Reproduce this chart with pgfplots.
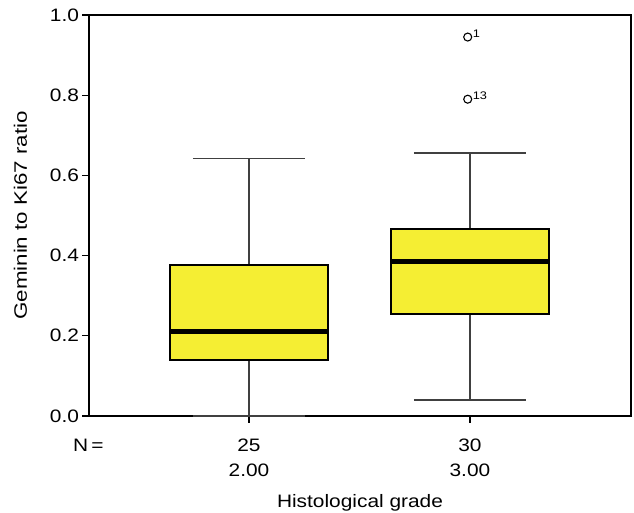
\documentclass[border=0pt]{standalone}
\usepackage{fontspec}
\setmainfont[FakeStretch=1.16]{Liberation Sans}
\newfontfamily\ylabfont[FakeStretch=1.24]{Liberation Sans}
\usepackage{pgfplots}
\pgfplotsset{compat=1.18}
\usepgfplotslibrary{statistics}
\definecolor{boxyellow}{HTML}{F5EE33}
\begin{document}
\begin{tikzpicture}[font=\fontsize{18bp}{25bp}\selectfont]
\begin{axis}[
  scale only axis, width=542bp, height=401bp,
  xmin=0.276, xmax=2.729, ymin=0, ymax=1,
  tick pos=left, tick align=outside, major tick length=6.5bp,
  axis line style={line width=1.5bp}, tick style={line width=1.3bp, black},
  xtick={1,2}, xticklabels={25\\2.00, 30\\3.00},
  xticklabel style={align=center, anchor=base, yshift=-53.5bp, inner sep=0pt},
  ytick={0,0.2,0.4,0.6,0.8,1.0},
  yticklabel style={/pgf/number format/fixed, /pgf/number format/fixed zerofill, /pgf/number format/precision=1},
  /pgf/number format/assume math mode=true,
  xlabel={Histological grade}, ylabel={Geminin to Ki67 ratio},
  xlabel style={at={(axis description cs:0.5,-0.2294)}, anchor=base, inner sep=0pt},
  ylabel style={at={(axis description cs:-0.1144,0.5)}, anchor=base, inner sep=0pt, font=\fontsize{18bp}{25bp}\ylabfont},
  boxplot/draw direction=y,
  clip=false,
]
\addplot+[boxplot prepared={draw position=1, lower whisker=0, lower quartile=0.1397, median=0.211, upper quartile=0.3766, upper whisker=0.642, box extend=0.715, whisker extend=0.507,
  every box/.style={draw=black, line width=1.6bp, fill=boxyellow},
  every whisker/.style={draw=black!75, line width=1.4bp},
  every median/.style={draw=black, line width=5.3bp}},
  solid, draw=black, mark=none] coordinates {};
\addplot+[boxplot prepared={draw position=2, lower whisker=0.040, lower quartile=0.255, median=0.386, upper quartile=0.466, upper whisker=0.656, box extend=0.715, whisker extend=0.507,
  every box/.style={draw=black, line width=1.6bp, fill=boxyellow},
  every whisker/.style={draw=black!75, line width=1.4bp},
  every median/.style={draw=black, line width=5.3bp}},
  solid, draw=black, mark=none] coordinates {};
\addplot[only marks, mark=o, mark size=4bp, black, line width=1.1bp,
  nodes near coords, point meta=explicit symbolic,
  nodes near coords style={anchor=base west, font=\fontsize{11bp}{13bp}\selectfont, xshift=4.5bp, yshift=-0.5bp, inner sep=0pt}]
  table[meta=label] {
x y label
1.99 0.945 1
1.99 0.79 13
};
\node[anchor=base west, inner sep=0pt] at (axis description cs:-0.0295,-0.0873) {N\,=};
\end{axis}
\pgfresetboundingbox
\path[use as bounding box] ([xshift=-89bp,yshift=-97bp]current axis.south west) rectangle ([xshift=3bp,yshift=15bp]current axis.north east);
\end{tikzpicture}
\end{document}
